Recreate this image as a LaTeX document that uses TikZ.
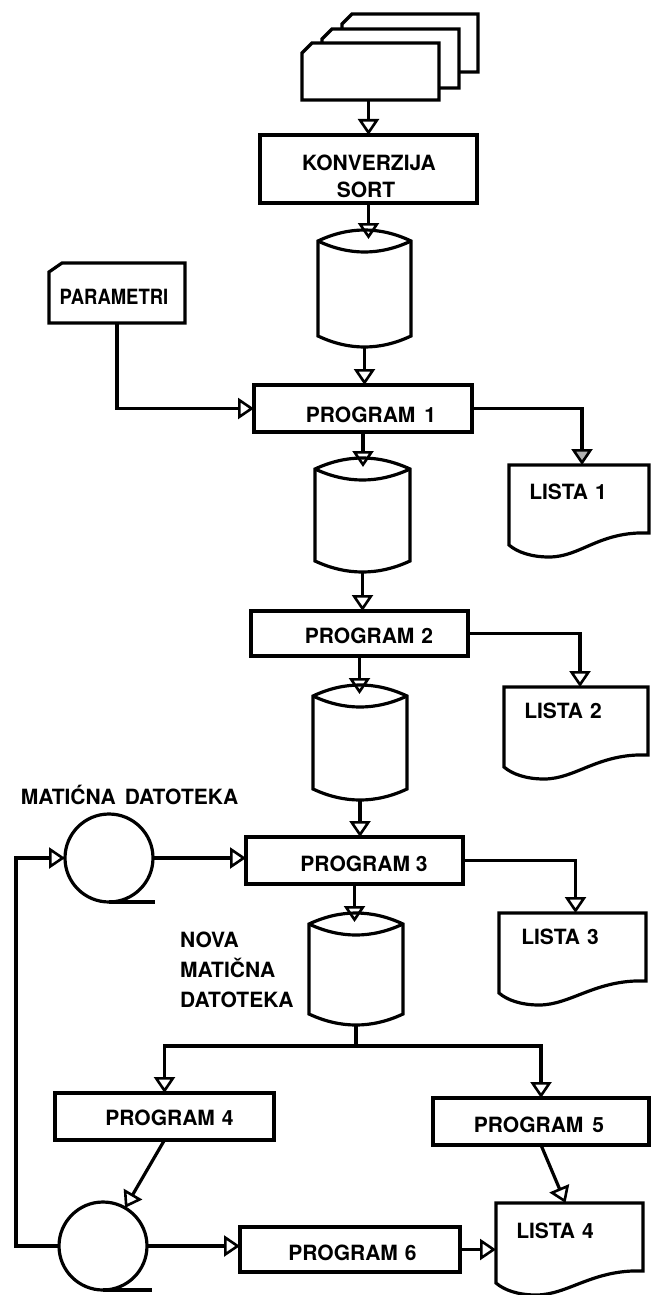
\documentclass[tikz,border=0pt]{standalone}
\usepackage{fontspec}
\usepackage{graphicx}
\setmainfont{TeX Gyre Heros}
\usetikzlibrary{arrows.meta,calc}
\tikzset{
 ln/.style={line width=3.2pt, line join=miter},
 arr/.style={ln, -{Triangle[open,length=16pt,width=21pt,line width=2.6pt]}},
 garr/.style={ln, -{Triangle[fill=gray!60,length=16pt,width=21pt,line width=2.6pt]}},
 hold/.style={draw=none, inner sep=0pt, outer sep=0pt, rectangle},
 outl/.style={ln, fill=white},
 pbox/.style={hold, draw, ln, fill=white},
 tape/.style={ln, draw, circle, minimum size=88, inner sep=0pt, outer sep=0pt, fill=white},
 txt/.style={font=\fontsize{21}{25}\selectfont\bfseries, anchor=base, inner sep=0pt},
}
\newcommand\procbox[5]{\node[pbox, minimum width={#4-#2}, minimum height={#5-#3}] (#1) at ({(#2+#4)/2},{(#3+#5)/2}) {};}
\newcommand\drum[5]{%
 \node[hold, minimum width={#3-#2}, minimum height={#5-#4}] (#1) at ({(#2+#3)/2},{(#4+#5)/2}) {};
 \coordinate (#1-in) at ({(#2+#3)/2},{#4+9});
 \draw[outl] (#2,{#4+11}) -- (#2,{#5-11}) .. controls ({#2+(#3-#2)/3},{#5+3.67}) and ({#3-(#3-#2)/3},{#5+3.67}) .. (#3,{#5-11}) -- (#3,{#4+11}) .. controls ({#3-(#3-#2)/3},{#4-3.67}) and ({#2+(#3-#2)/3},{#4-3.67}) .. (#2,{#4+11}) -- cycle;
 \draw[ln] (#2,{#4+11}) .. controls ({#2+(#3-#2)/3},{#4+25.67}) and ({#3-(#3-#2)/3},{#4+25.67}) .. (#3,{#4+11});
}
\newcommand\doclist[4]{%
 \node[hold, minimum width={#4-#2}, minimum height=80] (#1) at ({(#2+#4)/2},{#3+40}) {};
 \draw[outl] (#2,#3) -- (#4,#3) -- (#4,{#3+68}) .. controls ({#4-50},{#3+66}) and ({#2+72},{#3+92}) .. ({#2+40},{#3+92}) .. controls ({#2+22},{#3+92}) and ({#2+8},{#3+87}) .. (#2,{#3+80}) -- cycle;
}
\newcommand\card[7]{%
 \node[hold, minimum width={#4-#2}, minimum height={#5-#3}] (#1) at ({(#2+#4)/2},{(#3+#5)/2}) {};
 \draw[outl] (#2,{#3+#7}) -- ({#2+#6},#3) -- (#4,#3) -- (#4,#5) -- (#2,#5) -- cycle;
}
\begin{document}
\begin{tikzpicture}[x=1pt,y=-1pt]
\fill[white] (0,0) rectangle (651,1295);
\useasboundingbox (0,0) rectangle (651,1295);
% input cards
\card{c3}{342}{14}{478}{72}{10}{10}
\card{c2}{322}{29}{459}{88}{10}{10}
\card{c1}{302}{43}{439}{100}{10}{10}
\procbox{konv}{260}{135}{477}{203}
\node[txt] at (369,170) {KONVERZIJA};
\node[txt] at (366,197) {SORT};
\drum{cyl1}{318}{411}{230}{347}
\card{param}{49}{263}{185}{323}{13}{9}
\node[txt] at (114,304) {\scalebox{0.88}[1]{PARAMETRI}};
\procbox{p1}{254}{385}{472}{432}
\node[txt] at (371,422) {PROGRAM\hspace{9pt}1};
\doclist{l1}{509}{465}{649}
\node[txt] at (568,499) {LISTA\hspace{7pt}1};
\drum{cyl2}{315}{410}{458}{572}
\procbox{p2}{251}{611}{468}{656}
\node[txt] at (369,643) {PROGRAM\hspace{7pt}2};
\doclist{l2}{504}{687}{648}
\node[txt] at (563,718) {LISTA\hspace{7pt}2};
\drum{cyl3}{313}{407}{685}{800}
\node[txt] at (129.5,804) {MATIĆNA\hspace{9pt}DATOTEKA};
\node[tape] (t1) at (109,858) {};
\procbox{p3}{246}{837}{463}{884}
\node[txt] at (364,871) {PROGRAM 3};
\doclist{l3}{499}{913}{646}
\node[txt] at (560,944) {LISTA\hspace{7pt}3};
\drum{cyl4}{309}{403}{913}{1025}
\node[txt, anchor=base west] at (180,947) {NOVA};
\node[txt, anchor=base west] at (180,977) {MATIČNA};
\node[txt, anchor=base west] at (180,1007) {DATOTEKA};
\procbox{p4}{55}{1093}{274}{1140}
\node[txt] at (169.5,1125) {PROGRAM\hspace{7pt}4};
\procbox{p5}{433}{1098}{649}{1145}
\node[txt] at (539,1132) {PROGRAM\hspace{9pt}5};
\node[tape] (t2) at (103,1246) {};
\procbox{p6}{240}{1227}{460}{1272}
\node[txt] at (352.5,1260) {PROGRAM\hspace{7pt}6};
\doclist{l4}{496}{1203}{643}
\node[txt] at (555,1238) {LISTA\hspace{7pt}4};
% tape tails
\draw[ln] (t1.south) -- ++(46,0);
\draw[ln] (t2.south) -- ++(49,0);
% connectors
\draw[arr] (konv.north |- c1.south) -- (konv.north);
\draw[arr] (konv.south) -- (konv.south |- cyl1-in);
\draw[arr] (cyl1.south) -- (cyl1.south |- p1.north);
\draw[arr] (param.south) |- (p1.west);
\draw[garr] (p1.east) -| ([xshift=3pt]l1.north);
\draw[arr] (p1.south) -- (p1.south |- cyl2-in);
\draw[arr] (cyl2.south) -- (cyl2.south |- p2.north);
\draw[arr] (p2.east) -| ([xshift=4pt]l2.north);
\draw[arr] (p2.south) -- (p2.south |- cyl3-in);
\draw[arr] (cyl3.south) -- (cyl3.south |- p3.north);
\draw[arr] (t1.east) -- (t1.east -| p3.west);
\draw[arr] (p3.east) -| ([xshift=3pt]l3.north);
\draw[arr] (p3.south) -- (p3.south |- cyl4-in);
\draw[ln] (cyl4.south) -- ++(0,21) coordinate (br);
\draw[arr] (br) -| (p4.north);
\draw[arr] (br) -| (p5.north);
\draw[arr] (p4.south) -- (t2.60);
\draw[arr] (p5.south) -- ([xshift=-4pt]l4.north);
\draw[arr] (t2.east) -- (t2.east -| p6.west);
\draw[arr] (p6.east) -- (p6.east -| l4.west);
\coordinate (lp) at (16,0);
\draw[arr] (t2.west) -- (t2.west -| lp) |- (t1.west);
\end{tikzpicture}
\end{document}
